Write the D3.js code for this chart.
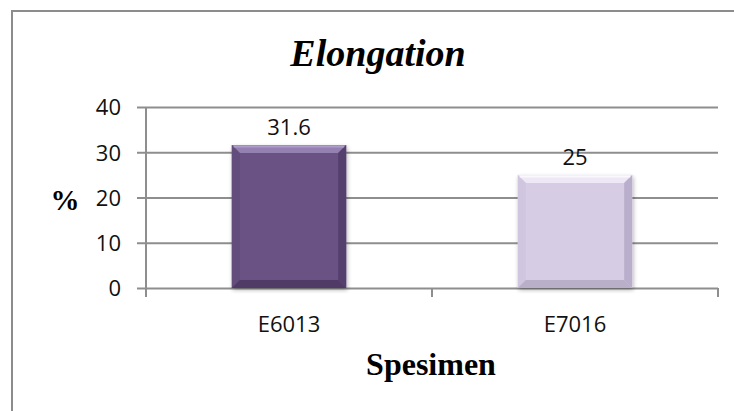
<!DOCTYPE html>
<html>
<head>
<meta charset="utf-8">
<script src="https://cdn.jsdelivr.net/npm/d3@7"></script>
<style>
  html, body { margin: 0; padding: 0; background: #fff; }
  svg { display: block; }
</style>
</head>
<body>
<svg id="chart" width="734" height="411"></svg>
<script>
// Elongation per specimen (%)
const categories = ["E6013", "E7016"];
const values = [31.6, 25];
const yTicks = [0, 10, 20, 30, 40];

const W = 734, H = 411;
const margin = { top: 107, right: 16, bottom: 123, left: 146 };
const innerW = W - margin.left - margin.right;
const innerH = H - margin.top - margin.bottom;

// face / bevel shades for each bar
const palette = [
  { face: "#6a5284", top: "#9580b2", hi: "#ae9ccb", left: "#644d7d", right: "#553f6d", bottom: "#4f3b66" },
  { face: "#d6cde5", top: "#eee8f6", hi: "#faf7fd", left: "#d0c6df", right: "#b9aecb", bottom: "#b9afc9" }
];

const svg = d3.select("#chart");

// outer frame (left and top edges visible)
svg.append("path")
  .attr("d", `M12,${H} L12,11 L${W},11`)
  .attr("fill", "none")
  .attr("stroke", "#8c8c8c")
  .attr("stroke-width", 2);

const defs = svg.append("defs");
const shadow = defs.append("filter").attr("id", "shadow")
  .attr("x", "-20%").attr("y", "-20%").attr("width", "140%").attr("height", "140%");
shadow.append("feGaussianBlur").attr("in", "SourceAlpha").attr("stdDeviation", 2);
shadow.append("feOffset").attr("dx", 1).attr("dy", 2).attr("result", "b");
shadow.append("feComponentTransfer").append("feFuncA").attr("type", "linear").attr("slope", 0.3);
const merge = shadow.append("feMerge");
merge.append("feMergeNode");
merge.append("feMergeNode").attr("in", "SourceGraphic");

const g = svg.append("g").attr("transform", `translate(${margin.left},${margin.top})`);

const x = d3.scaleBand().domain(categories).range([0, innerW]).paddingInner(0.6).paddingOuter(0.3);
const y = d3.scaleLinear().domain([0, 40]).range([innerH, 0]);

const labelFont = "'Open Sans', sans-serif";

// horizontal gridlines + left ticks
const yAxis = d3.axisLeft(y).tickValues(yTicks).tickSize(-innerW).tickPadding(0).tickFormat(d3.format("d"));
const yG = g.append("g").call(yAxis);
yG.select(".domain").remove();
yG.selectAll(".tick line")
  .attr("x1", -9)
  .attr("stroke", "#8e8e8e")
  .attr("stroke-width", 2);
yG.selectAll(".tick text")
  .attr("x", -25)
  .attr("dy", "0.36em")
  .attr("fill", "#111")
  .style("font-family", labelFont)
  .style("font-size", "22px");

// vertical axis line
g.append("line")
  .attr("x1", 0).attr("x2", 0)
  .attr("y1", y(40)).attr("y2", innerH + 9)
  .attr("stroke", "#8e8e8e").attr("stroke-width", 2);

// category axis: boundary ticks below the baseline
const bounds = d3.range(categories.length + 1).map(i => i * innerW / categories.length);
g.selectAll("line.ctick").data(bounds).join("line")
  .attr("class", "ctick")
  .attr("x1", d => d).attr("x2", d => d)
  .attr("y1", innerH).attr("y2", innerH + 9)
  .attr("stroke", "#8e8e8e").attr("stroke-width", 2);

g.selectAll("text.cat").data(categories).join("text")
  .attr("class", "cat")
  .attr("x", d => x(d) + x.bandwidth() / 2)
  .attr("y", innerH + 44)
  .attr("text-anchor", "middle")
  .attr("fill", "#111")
  .style("font-family", labelFont)
  .style("font-size", "22px")
  .text(d => d);

// bevelled bars
const bev = 8;
const bars = g.selectAll("g.bar").data(categories.map((c, i) => ({ c, v: values[i], p: palette[i] })))
  .join("g").attr("class", "bar").attr("filter", "url(#shadow)");

bars.each(function (d) {
  const b = d3.select(this);
  const x0 = x(d.c), w = x.bandwidth(), y0 = y(d.v), h = y(0) - y(d.v);
  const x1 = x0 + w, y1 = y0 + h;
  const poly = pts => pts.map(p => p.join(",")).join(" ");
  b.append("rect").attr("x", x0).attr("y", y0).attr("width", w).attr("height", h).attr("fill", d.p.face);
  b.append("polygon").attr("points", poly([[x0, y0], [x1, y0], [x1 - bev, y0 + bev], [x0 + bev, y0 + bev]])).attr("fill", d.p.top);
  b.append("polygon").attr("points", poly([[x0, y0], [x0 + bev, y0 + bev], [x0 + bev, y1 - bev], [x0, y1]])).attr("fill", d.p.left);
  b.append("polygon").attr("points", poly([[x1, y0], [x1, y1], [x1 - bev, y1 - bev], [x1 - bev, y0 + bev]])).attr("fill", d.p.right);
  b.append("polygon").attr("points", poly([[x0, y1], [x0 + bev, y1 - bev], [x1 - bev, y1 - bev], [x1, y1]])).attr("fill", d.p.bottom);
  b.append("line").attr("x1", x0 + 2).attr("x2", x1 - 2).attr("y1", y0 + 1.5).attr("y2", y0 + 1.5)
    .attr("stroke", d.p.hi).attr("stroke-width", 2);
});

// value labels
g.selectAll("text.val").data(values).join("text")
  .attr("class", "val")
  .attr("x", (d, i) => x(categories[i]) + x.bandwidth() / 2)
  .attr("y", d => y(d) - 10)
  .attr("text-anchor", "middle")
  .attr("fill", "#111")
  .style("font-family", labelFont)
  .style("font-size", "22px")
  .text(d => d);

// title
svg.append("text")
  .attr("x", 378).attr("y", 66)
  .attr("text-anchor", "middle")
  .style("font-family", "'Liberation Serif', 'Times New Roman', serif")
  .style("font-style", "italic")
  .style("font-weight", "bold")
  .style("font-size", "38px")
  .attr("fill", "#000")
  .text("Elongation");

// axis titles
svg.append("text")
  .attr("x", 431).attr("y", 375)
  .attr("text-anchor", "middle")
  .style("font-family", "'Liberation Serif', 'Times New Roman', serif")
  .style("font-weight", "bold")
  .style("font-size", "32px")
  .attr("fill", "#000")
  .text("Spesimen");

svg.append("text")
  .attr("x", 65).attr("y", 210)
  .attr("text-anchor", "middle")
  .style("font-family", "'Liberation Serif', 'Times New Roman', serif")
  .style("font-weight", "bold")
  .style("font-size", "29px")
  .attr("fill", "#000")
  .text("%");
</script>
</body>
</html>
